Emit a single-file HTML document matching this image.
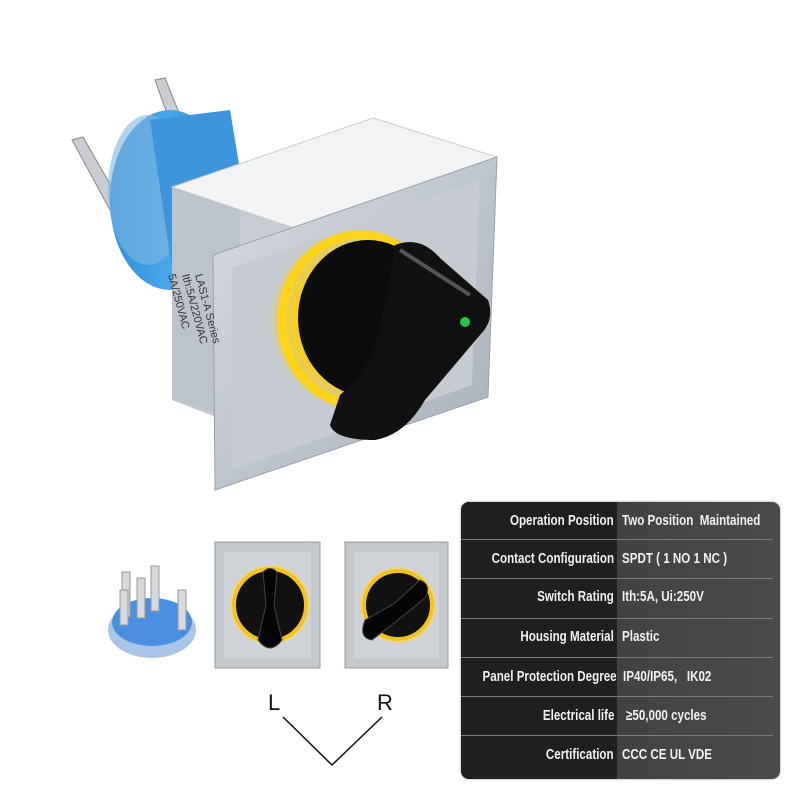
<!DOCTYPE html>
<html><head><meta charset="utf-8"><style>
html,body{margin:0;padding:0;background:#fff;}
.wrap{position:relative;width:800px;height:800px;overflow:hidden;background:#fff;}
svg{position:absolute;left:0;top:0;}
.tbl{position:absolute;left:461px;top:502px;width:319px;height:277px;border-radius:8px;overflow:hidden;background:linear-gradient(90deg,#3a3a3a,#4a4a4a);box-shadow:0 0 2px #888;}
.lc{position:absolute;left:0;top:0;width:156px;height:100%;background:#1f1f1f;}
.row{position:absolute;left:0;width:319px;height:39px;font-family:"Liberation Sans",sans-serif;font-weight:bold;font-size:14.5px;color:#f2f2f2;}
.row .k{position:absolute;right:166px;top:11px;white-space:nowrap;transform:scaleX(0.8);transform-origin:right center;}
.row .v{position:absolute;left:161px;top:11px;white-space:nowrap;transform:scaleX(0.8);transform-origin:left center;}
.sep{position:absolute;left:0;width:312px;height:1px;background:#7a7a7a;}
</style></head><body><div class="wrap">
<svg width="800" height="800" viewBox="0 0 800 800">
<defs>
<linearGradient id="metal" x1="0" y1="0" x2="1" y2="1"><stop offset="0" stop-color="#d8dde2"/><stop offset="0.5" stop-color="#bfc5cc"/><stop offset="1" stop-color="#a9b0b8"/></linearGradient>
<linearGradient id="blue" x1="0" y1="0" x2="1" y2="0"><stop offset="0" stop-color="#2f8fd8"/><stop offset="0.5" stop-color="#4aa8ea"/><stop offset="1" stop-color="#2a7fc8"/></linearGradient>
<radialGradient id="glow"><stop offset="0.7" stop-color="#ffd000" stop-opacity="0.9"/><stop offset="1" stop-color="#ffcc00" stop-opacity="0"/></radialGradient>
</defs>
<polygon points="155,80 165,78 190,140 178,145" fill="#c9ccd0" stroke="#888"/>
<polygon points="72,140 83,137 122,205 110,210" fill="#c9ccd0" stroke="#888"/>
<ellipse cx="170" cy="200" rx="60" ry="90" fill="url(#blue)"/>
<ellipse cx="148" cy="190" rx="40" ry="75" fill="#7fb6e0" opacity="0.6"/>
<polygon points="150,120 230,110 250,230 175,290" fill="#3d95dc"/>
<polygon points="172,187 373,118 497,157 300,230" fill="#f2f3f4" stroke="#ccc"/>
<polygon points="172,187 300,230 300,450 172,400" fill="#c7ccd2"/>
<polygon points="172,187 240,210 240,420 172,400" fill="#bcc3ca"/>
<polygon points="213,255 497,157 488,397 215,490" fill="url(#metal)" stroke="#9aa1a8"/>
<polygon points="232,268 480,180 472,385 232,470" fill="#c5cbd1"/>
<text x="0" y="0" transform="translate(195,275) rotate(75)" font-family="Liberation Sans" font-size="11" fill="#333">LAS1-A Series</text>
<text x="0" y="0" transform="translate(182,275) rotate(75)" font-family="Liberation Sans" font-size="11" fill="#333">Ith:5A/220VAC</text>
<text x="0" y="0" transform="translate(168,275) rotate(75)" font-family="Liberation Sans" font-size="11" fill="#333">5A/250VAC</text>
<circle cx="360" cy="320" r="92" fill="url(#glow)"/>
<ellipse cx="360" cy="320" rx="78" ry="85" fill="none" stroke="#ffd31a" stroke-width="9"/>
<ellipse cx="368" cy="318" rx="70" ry="78" fill="#0c0c0c"/>
<path d="M395,245 Q420,235 440,258 L488,300 Q495,320 480,335 L425,400 Q405,435 375,440 Q335,440 330,425 L340,395 Q370,370 380,330 Z" fill="#111"/>
<path d="M400,250 L470,295" stroke="#555" stroke-width="4"/>
<circle cx="465" cy="322" r="5" fill="#2bc24a"/>
<ellipse cx="152" cy="630" rx="44" ry="28" fill="#a9c4e6"/>
<ellipse cx="152" cy="622" rx="40" ry="24" fill="#4b8fe0"/>
<g fill="#d5d8dc" stroke="#999">
<rect x="122" y="572" width="8" height="45"/><rect x="137" y="578" width="8" height="40"/><rect x="151" y="566" width="8" height="45"/><rect x="120" y="590" width="8" height="35"/><rect x="178" y="590" width="8" height="40"/>
</g>
<rect x="215" y="542" width="105" height="126" fill="#c3c8cd" stroke="#999"/>
<rect x="224" y="552" width="87" height="106" fill="#cfd3d7"/>
<circle cx="270" cy="605" r="40" fill="#ffd84a" opacity="0.5"/>
<circle cx="270" cy="605" r="36" fill="#111" stroke="#f3c21c" stroke-width="4"/>
<path d="M263,572 Q270,565 277,572 L274,605 L282,640 Q270,656 258,640 L266,605 Z" fill="#050505" stroke="#444"/>
<rect x="345" y="542" width="103" height="126" fill="#c3c8cd" stroke="#999"/>
<rect x="354" y="552" width="85" height="106" fill="#cfd3d7"/>
<circle cx="398" cy="605" r="38" fill="#ffd84a" opacity="0.5"/>
<circle cx="398" cy="605" r="34" fill="#111" stroke="#f3c21c" stroke-width="4"/>
<path d="M420,580 Q432,585 425,598 L398,620 L372,640 Q358,638 365,620 L395,603 Z" fill="#050505" stroke="#444"/>
<text x="268" y="710" font-family="Liberation Sans" font-size="22" fill="#111">L</text>
<text x="377" y="710" font-family="Liberation Sans" font-size="22" fill="#111">R</text>
<polyline points="283,717 332,765 382,717" fill="none" stroke="#111" stroke-width="1.5"/>
</svg>
<div class="tbl"><div class="lc"></div>
<div class="row" style="top:0"><span class="k">Operation Position</span><span class="v">Two Position&nbsp; Maintained</span></div>
<div class="sep" style="top:37px"></div>
<div class="row" style="top:38px"><span class="k">Contact Configuration</span><span class="v">SPDT ( 1 NO 1 NC )</span></div>
<div class="sep" style="top:76px"></div>
<div class="row" style="top:76px"><span class="k">Switch Rating</span><span class="v">Ith:5A, Ui:250V</span></div>
<div class="sep" style="top:116px"></div>
<div class="row" style="top:116px"><span class="k">Housing Material</span><span class="v">Plastic</span></div>
<div class="sep" style="top:155px"></div>
<div class="row" style="top:156px"><span class="k" style="right:163px">Panel Protection Degree</span><span class="v" style="left:162px">IP40/IP65,&nbsp;&nbsp; IK02</span></div>
<div class="sep" style="top:194px"></div>
<div class="row" style="top:195px"><span class="k">Electrical life</span><span class="v" style="left:165px">≥50,000 cycles</span></div>
<div class="sep" style="top:233px"></div>
<div class="row" style="top:234px"><span class="k">Certification</span><span class="v">CCC CE UL VDE</span></div>
</div>
</div></body></html>
